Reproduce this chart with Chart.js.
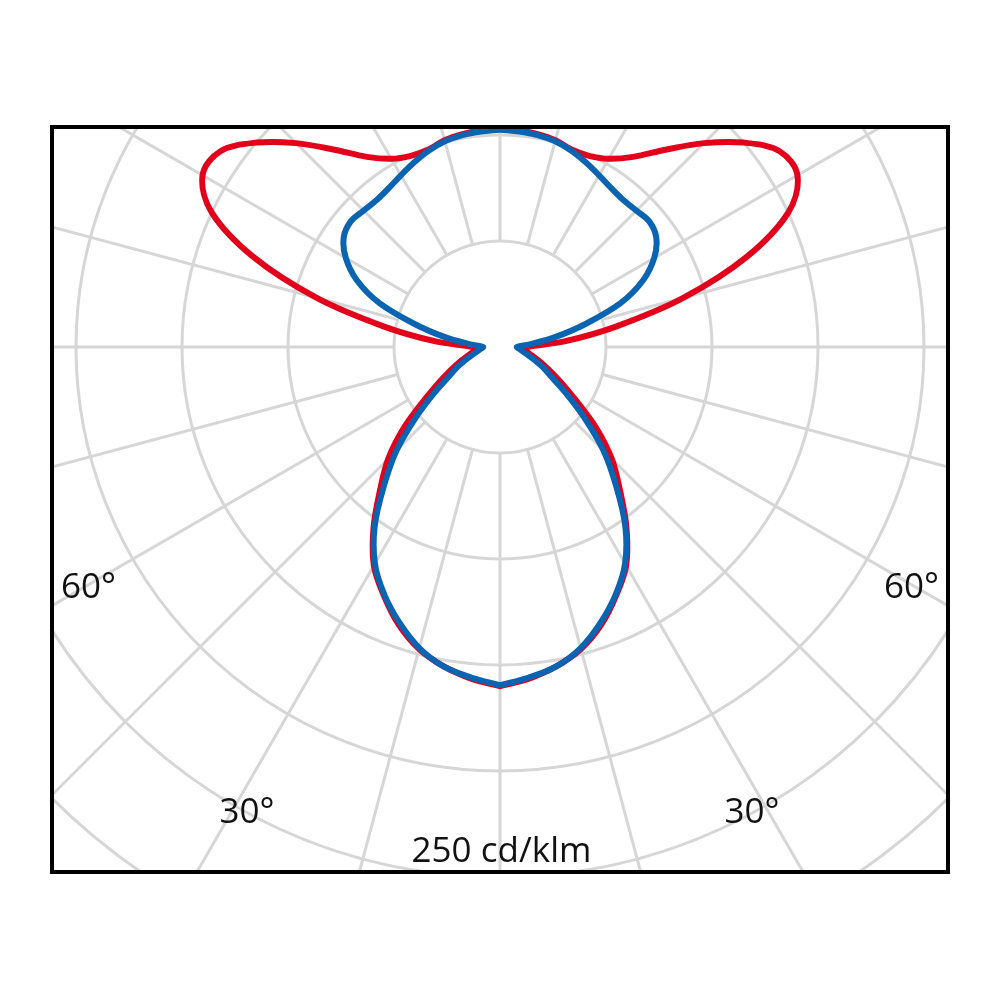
<!DOCTYPE html>
<html>
<head>
<meta charset="utf-8">
<title>Lichtverteilung</title>
<script src="https://cdn.jsdelivr.net/npm/chart.js@4.4.1/dist/chart.umd.min.js"></script>
<style>
  html, body { margin: 0; padding: 0; background: #fff; }
  canvas { display: block; }
</style>
</head>
<body>
<canvas id="ldc" width="1000" height="1000"></canvas>
<script>
// Ausstrahlungswinkel (gamma, 0 = nach unten) und Lichtstärken in cd/klm
const gammaDeg = [0, 5, 10, 15, 20, 25, 30, 35, 40, 45, 50, 55, 60, 65, 70, 75, 80, 85, 90,
                  95, 100, 105, 110, 115, 120, 125, 130, 135, 140, 145, 150, 155, 160, 165, 170, 175, 180];
const blauC0 = [159.5, 156.5, 153, 147, 138.5, 129, 118, 103, 85, 69, 52, 38, 28, 22, 17, 13, 10.5, 9, 8,
                14, 26, 41.5, 60.5, 74.5, 84, 90, 92, 91, 90.5, 91.5, 93.5, 96, 98.5, 100.5, 101.5, 102, 102.5];
const rotC90 = [160, 157, 153, 147.5, 139.5, 129.5, 119, 104, 88, 74.5, 59, 43.5, 33, 25.5, 20, 15.5, 13, 12.5, 12.5,
                30.5, 55.5, 89.5, 123.5, 150, 162, 161, 150, 136, 121.5, 109.5, 102.5, 99.5, 99, 101, 102, 102.5, 103];

// Raster
const ringWerte = [50, 100, 150, 200, 250, 300, 350];
const speichenWinkel = [0, 15, 30, 45, 60, 75, 90, 105, 120, 135, 150, 165,
                        180, 195, 210, 225, 240, 255, 270, 285, 300, 315, 330, 345];
const winkelLabels = ['60°', '60°', '30°', '30°'];
const einheitLabel = '250 cd/klm';

const PX_PRO_CD = 106 / 50;
const RAHMEN = { left: 52, top: 127, right: 52, bottom: 128 };

// Polarkurve (symmetrisch) in x/y umrechnen: rechte Hälfte hoch, linke wieder runter
function kurve(werte) {
    const pts = [];
    for (let i = 0; i < gammaDeg.length; i++) {
        const g = gammaDeg[i] * Math.PI / 180;
        pts.push({ x: werte[i] * Math.sin(g), y: -werte[i] * Math.cos(g) });
    }
    for (let i = gammaDeg.length - 2; i >= 0; i--) {
        const g = gammaDeg[i] * Math.PI / 180;
        pts.push({ x: -werte[i] * Math.sin(g), y: -werte[i] * Math.cos(g) });
    }
    return pts;
}

const breite = (1000 - RAHMEN.left - RAHMEN.right) / PX_PRO_CD;
const oben = (347 - RAHMEN.top) / PX_PRO_CD;
const unten = (1000 - RAHMEN.bottom - 347) / PX_PRO_CD;

const rasterPlugin = {
    id: 'polarRaster',
    beforeDatasetsDraw(chart) {
        const { ctx, chartArea: a, scales: { x, y } } = chart;
        const cx = x.getPixelForValue(0), cy = y.getPixelForValue(0);
        const rp = v => x.getPixelForValue(v) - cx;
        ctx.save();
        ctx.beginPath();
        ctx.rect(a.left, a.top, a.right - a.left, a.bottom - a.top);
        ctx.clip();
        ctx.strokeStyle = 'rgb(214,214,214)';
        ctx.lineWidth = 3;
        ringWerte.forEach(v => {
            ctx.beginPath();
            ctx.arc(cx, cy, rp(v), 0, Math.PI * 2);
            ctx.stroke();
        });
        const r0 = rp(ringWerte[0]), r1 = rp(ringWerte[ringWerte.length - 1]);
        speichenWinkel.forEach(w => {
            const g = w * Math.PI / 180;
            const dx = Math.sin(g), dy = Math.cos(g);
            ctx.beginPath();
            ctx.moveTo(cx + dx * r0, cy + dy * r0);
            ctx.lineTo(cx + dx * r1, cy + dy * r1);
            ctx.stroke();
        });
        ctx.restore();
    },
    afterDatasetsDraw(chart) {
        const { ctx, chartArea: a, scales: { x, y } } = chart;
        ctx.save();
        ctx.fillStyle = '#111';
        ctx.font = '35px "Open Sans", sans-serif';
        ctx.textAlign = 'center';
        ctx.textBaseline = 'alphabetic';
        const lagen = [[-194.1, -118.4], [194.1, -118.4], [-119.3, -224.5], [118.9, -224.5]];
        winkelLabels.forEach((t, i) => {
            ctx.fillText(t, x.getPixelForValue(lagen[i][0]), y.getPixelForValue(lagen[i][1]));
        });
        ctx.fillText(einheitLabel, x.getPixelForValue(0.7), y.getPixelForValue(-242.9));
        // Rahmen
        ctx.strokeStyle = '#000';
        ctx.lineWidth = 4;
        ctx.strokeRect(a.left, a.top, a.right - a.left, a.bottom - a.top);
        ctx.restore();
    }
};

new Chart(document.getElementById('ldc'), {
    type: 'scatter',
    data: {
        datasets: [
            {
                label: 'C0-C180',
                data: kurve(blauC0),
                showLine: true,
                borderColor: '#0a64b2',
                borderWidth: 6,
                pointRadius: 0,
                tension: 0.35,
                borderJoinStyle: 'round',
                borderCapStyle: 'round'
            },
            {
                label: 'C90-C270',
                data: kurve(rotC90),
                showLine: true,
                borderColor: '#e2001a',
                borderWidth: 6,
                pointRadius: 0,
                tension: 0.35,
                borderJoinStyle: 'round',
                borderCapStyle: 'round'
            }
        ]
    },
    options: {
        responsive: false,
        animation: false,
        devicePixelRatio: 1,
        layout: { padding: RAHMEN },
        plugins: { legend: { display: false }, tooltip: { enabled: false } },
        scales: {
            x: { type: 'linear', display: false, min: -breite / 2, max: breite / 2 },
            y: { type: 'linear', display: false, min: -unten, max: oben }
        }
    },
    plugins: [rasterPlugin]
});
</script>
</body>
</html>
